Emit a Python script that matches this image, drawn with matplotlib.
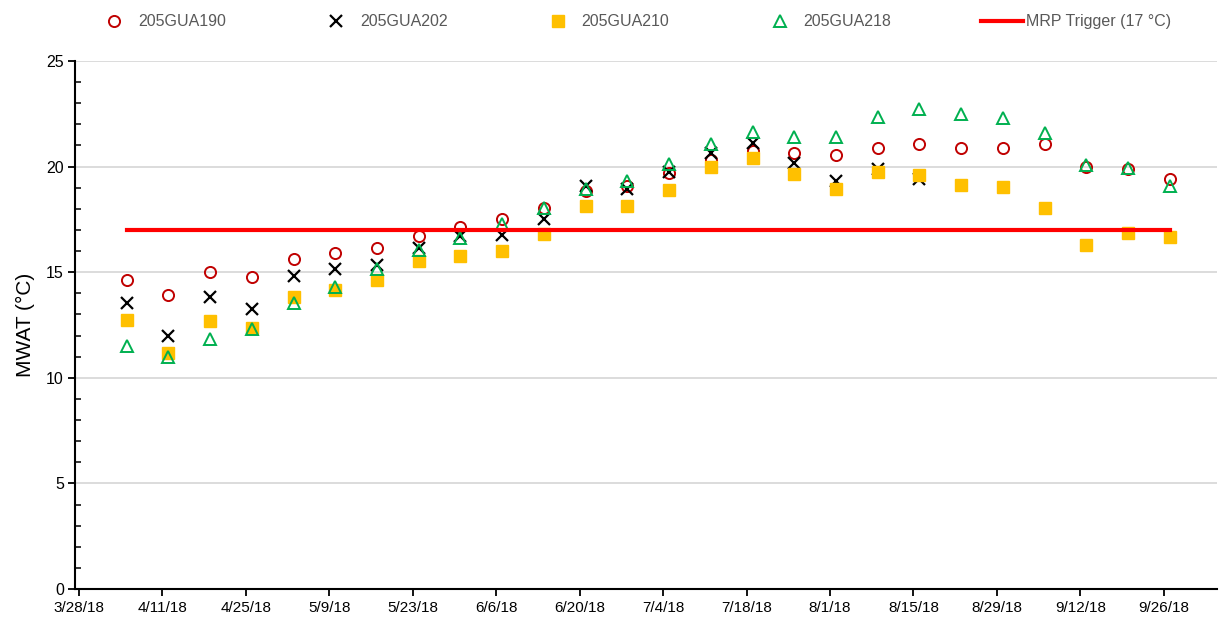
import matplotlib
matplotlib.use("Agg")
import matplotlib.pyplot as plt
import numpy as np
import pandas as pd

plt.rcParams['font.family'] = ['Liberation Sans', 'DejaVu Sans']

# weekly sample dates (Thursdays)
dates = pd.to_datetime([
    "2018-04-05", "2018-04-12", "2018-04-19", "2018-04-26", "2018-05-03",
    "2018-05-10", "2018-05-17", "2018-05-24", "2018-05-31", "2018-06-07",
    "2018-06-14", "2018-06-21", "2018-06-28", "2018-07-05", "2018-07-12",
    "2018-07-19", "2018-07-26", "2018-08-02", "2018-08-09", "2018-08-16",
    "2018-08-23", "2018-08-30", "2018-09-06", "2018-09-13", "2018-09-20",
    "2018-09-27"])

gua190 = [14.62, 13.91, 15.00, 14.78, 15.62, 15.92, 16.14, 16.70, 17.15, 17.54,
          18.05, 18.84, 19.07, 19.71, 20.29, 20.76, 20.65, 20.54, 20.89, 21.05,
          20.89, 20.86, 21.05, 19.99, 19.91, 19.39]
gua202 = [13.53, 11.97, 13.83, 13.27, 14.81, 15.13, 15.32, 16.16, 16.70, 16.78,
          17.54, 19.07, 18.92, 19.74, 20.65, 21.13, 20.18, 19.31, 19.91, 19.39,
          np.nan, np.nan, np.nan, np.nan, np.nan, np.nan]
gua210 = [12.73, 11.18, 12.68, 12.37, 13.82, 14.15, 14.65, 15.55, 15.79, 15.99,
          16.82, 18.13, 18.13, 18.88, 19.97, 20.42, 19.67, 18.95, 19.74, 19.58,
          19.12, 19.04, 18.02, 16.28, 16.87, 16.66]
gua218 = [11.50, 10.99, 11.85, 12.29, 13.55, 14.29, 15.13, 16.04, 16.63, 17.26,
          18.05, 18.92, 19.34, 20.13, 21.08, 21.65, 21.39, 21.39, 22.34, 22.74,
          22.50, 22.31, 21.60, 20.07, 19.94, 19.07]
trigger = 17

fig = plt.figure(figsize=(12.19, 6.23), dpi=100)
ax = fig.add_axes([75/1219, 34/623, (1217-75)/1219, (589.5-61.5)/623])

ms = 8
ax.plot(dates, gua190, 'o', ms=ms, mfc='none', mec='#C00000', mew=1.4, label='205GUA190', zorder=3)
ax.plot(dates, gua202, 'x', ms=ms, color='black', mew=1.6, label='205GUA202', zorder=3)
ax.plot(dates, gua210, 's', ms=ms, color='#FFC000', mec='#FFC000', label='205GUA210', zorder=3)
ax.plot(dates, gua218, '^', ms=ms, mfc='none', mec='#00B050', mew=1.4, label='205GUA218', zorder=3)
ax.plot([dates[0], dates[-1]], [trigger, trigger], '-', color='#FF0000', lw=3,
        label='MRP Trigger (17 °C)', zorder=4)

ax.set_ylim(0, 25)
ax.set_yticks([0, 5, 10, 15, 20, 25])
ax.set_yticks(np.arange(0, 25, 1), minor=True)
ax.set_xlim(pd.Timestamp("2018-03-27 08:00"), pd.Timestamp("2018-10-04 22:00"))
ticks = pd.date_range("2018-03-28", "2018-09-26", freq="14D")
ax.set_xticks(ticks)
ax.set_xticklabels([f"{d.month}/{d.day}/18" for d in ticks])

ax.grid(axis='y', which='major', color='#D9D9D9', lw=1.3)
ax.set_axisbelow(True)
for s in ['top', 'right']:
    ax.spines[s].set_visible(False)
for s in ['left', 'bottom']:
    ax.spines[s].set_linewidth(1.5)
ax.tick_params(axis='y', which='major', direction='out', length=5, width=1.3, labelsize=11.5, pad=3)
ax.tick_params(axis='y', which='minor', direction='in', length=4, width=1.1)
ax.tick_params(axis='x', which='major', direction='out', length=5, width=1.3, labelsize=11, pad=4)
ax.set_ylabel('MWAT (°C)', fontsize=15, labelpad=8)

fig.legend(loc='upper center', bbox_to_anchor=(632/1219, 1.0), ncol=5, frameon=False,
           fontsize=11.5, handlelength=2.6, handletextpad=0.2, columnspacing=5.6,
           labelcolor='#595959', markerscale=1.0)

fig.savefig('out.png', dpi=100)
